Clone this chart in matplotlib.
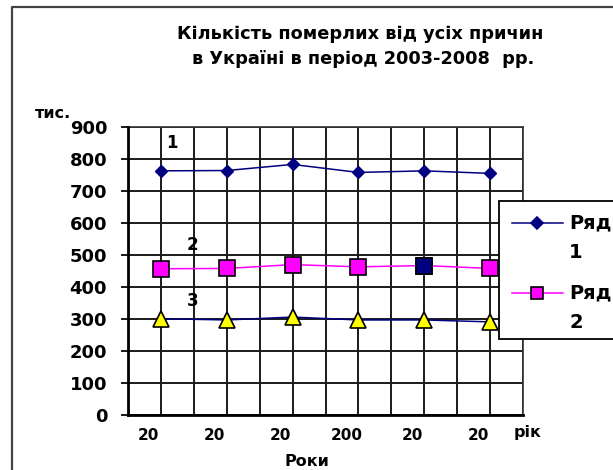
import matplotlib.pyplot as plt
from matplotlib.lines import Line2D
from matplotlib.patches import Rectangle
import matplotlib.transforms as mtransforms

plt.rcParams['font.family'] = ['DejaVu Sans']
plt.rcParams['font.weight'] = 'bold'

# deaths from all causes, thousands
pos = [1, 3, 5, 7, 9, 11]
year_labels = ['20', '20', '20', '200', '20', '20']
row1 = [763, 764, 783, 758, 763, 755]
row2 = [457, 458, 470, 463, 467, 458]
row3 = [301, 297, 306, 297, 297, 291]
yticks = [0, 100, 200, 300, 400, 500, 600, 700, 800, 900]

W, H = 613, 470


def px(x, y):
    return x / W, 1 - y / H


fig = plt.figure(figsize=(W / 100, H / 100), dpi=100)
ax = fig.add_axes([128 / W, 1 - 415 / H, 395 / W, 288 / H])

ax.set_xlim(0, 12)
ax.set_ylim(0, 900)

# grid: one vertical line per half-category, horizontal every 100
for x in range(0, 13):
    ax.axvline(x, color='#1a1a1a', lw=1.4, zorder=1)
for y in yticks:
    ax.axhline(y, color='#1a1a1a', lw=1.4, zorder=1)

ax.plot(pos, row1, color='#000080', lw=1.1, marker='D', ms=6.2,
        mfc='#000080', mec='#000080', zorder=3)
ax.plot(pos, row2, color='#ff00ff', lw=1.1, marker='s', ms=11,
        mfc='#ff00ff', mec='black', mew=1.2, zorder=3)
ax.plot(pos[4], row2[4], ls='', marker='s', ms=11,
        mfc='#000080', mec='black', mew=1.2, zorder=4)
ax.plot(pos, row3, color='#000080', lw=1.1, marker='^', ms=12,
        mfc='#ffff00', mec='black', mew=1.2, zorder=3)

ax.set_yticks(yticks)
ax.set_yticklabels([str(v) for v in yticks], fontsize=13, fontweight='bold')
ax.tick_params(axis='y', length=5, width=1.4, pad=10, color='#1a1a1a')

ax.set_xticks(pos)
ax.set_xticklabels(year_labels, fontsize=11, fontweight='bold')
ax.tick_params(axis='x', length=0, pad=9)
shift = mtransforms.ScaledTranslation(-12 / 100, 0, fig.dpi_scale_trans)
for lab in ax.get_xticklabels():
    lab.set_transform(lab.get_transform() + shift)

for side in ['left', 'bottom']:
    ax.spines[side].set_linewidth(2)
    ax.spines[side].set_color('black')
    ax.spines[side].set_zorder(5)
for side in ['top', 'right']:
    ax.spines[side].set_linewidth(1.2)
    ax.spines[side].set_color('#333333')

# series numbers inside the plot
ax.text(1.35, 850, '1', fontsize=12, fontweight='bold', ha='center', va='center')
ax.text(1.95, 532, '2', fontsize=12, fontweight='bold', ha='center', va='center')
ax.text(1.95, 355, '3', fontsize=12, fontweight='bold', ha='center', va='center')

# titles and axis captions
fig.text(*px(360, 34), 'Кількість померлих від усіх причин', fontsize=12.8,
         fontweight='bold', ha='center', va='center')
fig.text(*px(363, 59), 'в Україні в період 2003-2008  рр.', fontsize=12.8,
         fontweight='bold', ha='center', va='center')
fig.text(*px(53, 114), 'тис.', fontsize=11.5, fontweight='bold',
         ha='center', va='center')
fig.text(*px(528, 432), 'рік', fontsize=11.5, fontweight='bold',
         ha='center', va='center')
fig.text(*px(307, 462), 'Роки', fontsize=11.5, fontweight='bold',
         ha='center', va='center')

# outer chart frame (left and top edges)
fig.add_artist(Line2D([12 / W, 12 / W, 1], [0, 1 - 7 / H, 1 - 7 / H],
                      transform=fig.transFigure, color='#444444', lw=1.6))

# legend box running off the right edge
x0, y0 = px(499, 339)
x1, y1 = px(640, 201)
fig.add_artist(Rectangle((x0, y0), x1 - x0, y1 - y0, transform=fig.transFigure,
                         facecolor='white', edgecolor='black', lw=1.3,
                         zorder=10, clip_on=False))
for (yl, color, mk, ms, mfc, mec, name) in [
        (223, '#000080', 'D', 6.2, '#000080', '#000080', 'Ряд'),
        (293, '#ff00ff', 's', 9, '#ff00ff', 'black', 'Ряд')]:
    lx0, ly = px(512, yl)
    lx1, _ = px(563, yl)
    mx, _ = px(537, yl)
    fig.add_artist(Line2D([lx0, lx1], [ly, ly], transform=fig.transFigure,
                          color=color, lw=1.1, zorder=11))
    fig.add_artist(Line2D([mx], [ly], transform=fig.transFigure, ls='',
                          marker=mk, ms=ms, mfc=mfc, mec=mec, mew=1.2, zorder=12))
    fig.text(*px(569, yl), name, fontsize=14, fontweight='bold',
             ha='left', va='center', zorder=12)
fig.text(*px(576, 253), '1', fontsize=14, fontweight='bold',
         ha='center', va='center', zorder=12)
fig.text(*px(576, 323), '2', fontsize=14, fontweight='bold',
         ha='center', va='center', zorder=12)

fig.savefig('out.png', dpi=100)
